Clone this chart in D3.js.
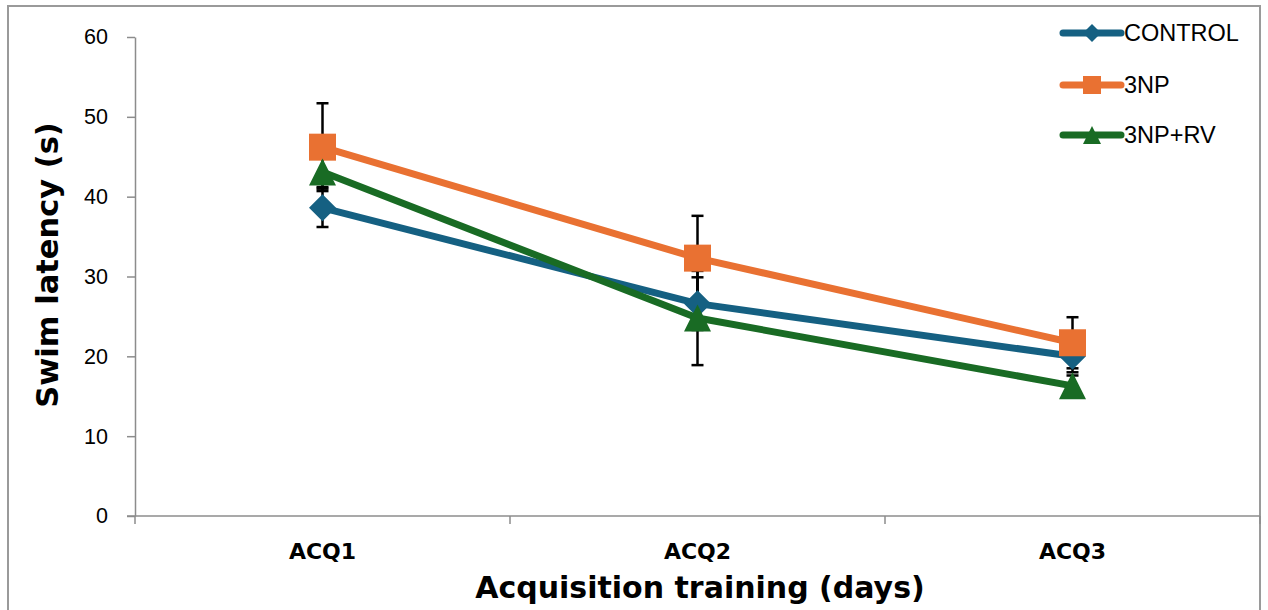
<!DOCTYPE html>
<html>
<head>
<meta charset="utf-8">
<script src="https://cdn.jsdelivr.net/npm/d3@7"></script>
<style>
  body { margin: 0; background: #fff; }
  svg { display: block; }
</style>
</head>
<body>
<figure id="chart" style="margin:0"></figure>
<script>
// chart data
const days = ["ACQ1", "ACQ2", "ACQ3"];
const seriesNames = ["CONTROL", "3NP", "3NP+RV"];
const control = [38.6, 26.6, 20.0];
const np3 = [46.2, 32.3, 21.7];
const np3rv = [43.1, 24.8, 16.3];
const controlErr = [2.4, 3.3, 2.0];
const np3Err = [5.5, 5.3, 3.2];
const np3rvErr = [1.9, 5.9, 1.3];
const yTicks = [0, 10, 20, 30, 40, 50, 60];

const width = 1268;
const height = 610;

const colors = ["#156082", "#E97132", "#196B24"];

// custom marker shapes, size = width^2
const diamond = {
  draw(ctx, size) {
    const r = Math.sqrt(size) / 2;
    ctx.moveTo(0, -r);
    ctx.lineTo(r, 0);
    ctx.lineTo(0, r);
    ctx.lineTo(-r, 0);
    ctx.closePath();
  }
};
const square = {
  draw(ctx, size) {
    const r = Math.sqrt(size) / 2;
    ctx.rect(-r, -r, 2 * r, 2 * r);
  }
};
const triangle = {
  draw(ctx, size) {
    const r = Math.sqrt(size) / 2;
    ctx.moveTo(0, -r);
    ctx.lineTo(r, r);
    ctx.lineTo(-r, r);
    ctx.closePath();
  }
};
const shapes = [diamond, square, triangle];

const series = seriesNames.map((name, i) => ({
  name: name,
  values: [control, np3, np3rv][i],
  errs: [controlErr, np3Err, np3rvErr][i],
  color: colors[i],
  shape: shapes[i]
}));

const svg = d3.select("#chart")
  .append("svg")
  .attr("width", width)
  .attr("height", height);

// outer chart border
svg.append("rect")
  .attr("x", 8).attr("y", 6)
  .attr("width", 1252).attr("height", 640)
  .attr("fill", "none")
  .attr("stroke", "#9a9a9a")
  .attr("stroke-width", 2);

const x = d3.scaleBand().domain(days).range([135, 1260]).padding(0);
const y = d3.scaleLinear().domain([0, 60]).range([516, 37]);
const cx = d => x(d) + x.bandwidth() / 2;

// y axis
const yAxis = svg.append("g")
  .attr("transform", "translate(135,0)")
  .call(d3.axisLeft(y).tickValues(yTicks).tickSize(8).tickSizeOuter(0).tickPadding(19));
yAxis.select(".domain").attr("stroke", "#8c8c8c").attr("stroke-width", 1.5);
yAxis.selectAll(".tick line").attr("stroke", "#8c8c8c").attr("stroke-width", 1.5);
yAxis.selectAll(".tick text")
  .attr("font-family", "Liberation Sans, Arial, sans-serif")
  .attr("font-size", 21.5)
  .attr("fill", "#000");

// x axis: line plus ticks at the band edges
const xAxis = svg.append("g").attr("transform", "translate(0,516)");
xAxis.append("line")
  .attr("x1", 127).attr("x2", x.range()[1])
  .attr("stroke", "#8c8c8c").attr("stroke-width", 1.5);
const edges = days.map(d => x(d)).concat([x.range()[1]]);
xAxis.selectAll(".edge")
  .data(edges)
  .enter()
  .append("line")
  .attr("x1", d => d).attr("x2", d => d)
  .attr("y1", 0).attr("y2", 8)
  .attr("stroke", "#8c8c8c").attr("stroke-width", 1.5);
xAxis.selectAll(".lbl")
  .data(days)
  .enter()
  .append("text")
  .attr("x", d => cx(d))
  .attr("y", 43)
  .attr("text-anchor", "middle")
  .attr("font-family", "DejaVu Sans, sans-serif")
  .attr("font-weight", "bold")
  .attr("font-size", 22)
  .text(d => d);

// axis titles
svg.append("text")
  .attr("x", 700).attr("y", 598)
  .attr("text-anchor", "middle")
  .attr("font-family", "DejaVu Sans, sans-serif")
  .attr("font-weight", "bold")
  .attr("font-size", 30)
  .text("Acquisition training (days)");

svg.append("text")
  .attr("transform", "translate(58,265) rotate(-90)")
  .attr("text-anchor", "middle")
  .attr("font-family", "DejaVu Sans, sans-serif")
  .attr("font-weight", "bold")
  .attr("font-size", 30.5)
  .text("Swim latency (s)");

// error bars (under the lines and markers)
const errG = svg.append("g");
series.forEach(s => {
  const g = errG.selectAll(null)
    .data(days.map((d, i) => ({ day: d, v: s.values[i], e: s.errs[i] })))
    .enter()
    .append("g")
    .attr("stroke", "#000")
    .attr("stroke-width", 2.5);
  g.append("line")
    .attr("x1", d => cx(d.day)).attr("x2", d => cx(d.day))
    .attr("y1", d => y(d.v - d.e)).attr("y2", d => y(d.v + d.e));
  g.append("line")
    .attr("x1", d => cx(d.day) - 6).attr("x2", d => cx(d.day) + 6)
    .attr("y1", d => y(d.v - d.e)).attr("y2", d => y(d.v - d.e));
  g.append("line")
    .attr("x1", d => cx(d.day) - 6).attr("x2", d => cx(d.day) + 6)
    .attr("y1", d => y(d.v + d.e)).attr("y2", d => y(d.v + d.e));
});

// lines and markers
const line = d3.line().x(d => cx(d.day)).y(d => y(d.v));
series.forEach(s => {
  const pts = days.map((d, i) => ({ day: d, v: s.values[i] }));
  svg.append("path")
    .datum(pts)
    .attr("d", line)
    .attr("fill", "none")
    .attr("stroke", s.color)
    .attr("stroke-width", 7)
    .attr("stroke-linejoin", "round")
    .attr("stroke-linecap", "round");
  svg.selectAll(null)
    .data(pts)
    .enter()
    .append("path")
    .attr("d", d3.symbol().type(s.shape).size(27 * 27))
    .attr("transform", d => "translate(" + cx(d.day) + "," + y(d.v) + ")")
    .attr("fill", s.color);
});

// legend
const legendY = [33, 85, 135];
const legend = svg.selectAll(".legend")
  .data(series)
  .enter()
  .append("g")
  .attr("transform", (d, i) => "translate(1063," + legendY[i] + ")");
legend.append("line")
  .attr("x1", 0).attr("x2", 58)
  .attr("stroke", d => d.color)
  .attr("stroke-width", 7)
  .attr("stroke-linecap", "round");
legend.append("path")
  .attr("d", d => d3.symbol().type(d.shape).size(18 * 18)())
  .attr("transform", "translate(29,0)")
  .attr("fill", d => d.color);
legend.append("text")
  .attr("x", 61)
  .attr("dy", "0.35em")
  .attr("font-family", "Liberation Sans, Arial, sans-serif")
  .attr("font-size", 23.5)
  .attr("fill", "#000")
  .text(d => d.name);
</script>
</body>
</html>
